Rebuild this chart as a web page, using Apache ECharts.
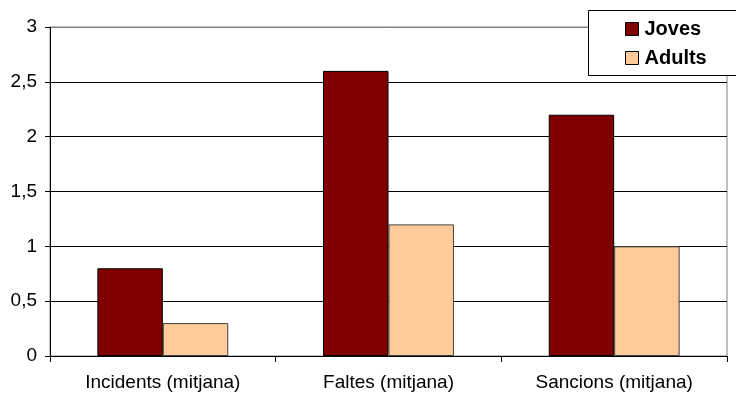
<!DOCTYPE html>
<html>
<head>
<meta charset="utf-8">
<script src="https://cdn.jsdelivr.net/npm/echarts@6/dist/echarts.min.js"></script>
<style>
html,body{margin:0;padding:0;background:#fff;}
#c{width:736px;height:398px;}
</style>
</head>
<body>
<div id="c"></div>
<script>
var categories = ['Incidents (mitjana)', 'Faltes (mitjana)', 'Sancions (mitjana)'];
var joves = [0.8, 2.6, 2.2];
var adults = [0.3, 1.2, 1.0];
var seriesNames = ['Joves', 'Adults'];

var chart = echarts.init(document.getElementById('c'), null, {renderer: 'canvas'});
chart.setOption({
  animation: false,
  backgroundColor: '#fff',
  textStyle: {fontFamily: '"Liberation Sans", Arial, sans-serif'},
  grid: {left: 50, right: 9, top: 27, bottom: 42, show: true, borderColor: '#808080', borderWidth: 1, backgroundColor: 'transparent'},
  graphic: [{
    type: 'rect', z: 3, left: 588, top: 10,
    shape: {width: 200, height: 65},
    style: {fill: '#fff', stroke: '#000', lineWidth: 1}
  }],
  legend: {
    orient: 'vertical',
    left: 588, top: 10,
    padding: [9, 20, 7, 37],
    itemGap: 9,
    itemWidth: 13, itemHeight: 13,
    z: 5,
    icon: 'rect',
    itemStyle: {borderColor: '#000', borderWidth: 1},
    textStyle: {fontSize: 20, fontWeight: 'bold', color: '#000', lineHeight: 20, padding: [0, 0, 0, 1]},
    data: seriesNames
  },
  xAxis: {
    type: 'category',
    data: categories,
    axisLine: {lineStyle: {color: '#000', width: 1}},
    axisTick: {show: true, length: 6, lineStyle: {color: '#000'}},
    axisLabel: {color: '#000', fontSize: 19, margin: 17}
  },
  yAxis: {
    type: 'value',
    min: 0, max: 3, interval: 0.5,
    axisLine: {show: true, lineStyle: {color: '#000', width: 1}},
    axisTick: {show: true, length: 5, lineStyle: {color: '#000'}},
    axisLabel: {color: '#000', fontSize: 19, margin: 13,
      formatter: function (v) { return String(v).replace('.', ','); }},
    splitLine: {show: true, lineStyle: {color: ['#000', '#000', '#000', '#000', '#000', '#000', '#808080'], width: 1}}
  },
  series: [
    {name: seriesNames[0], type: 'bar', data: joves, barGap: '0%', barCategoryGap: '42%',
      itemStyle: {color: '#800000', borderColor: '#000', borderWidth: 1}},
    {name: seriesNames[1], type: 'bar', data: adults,
      itemStyle: {color: '#FFCC99', borderColor: '#404040', borderWidth: 1}}
  ]
});
</script>
</body>
</html>
